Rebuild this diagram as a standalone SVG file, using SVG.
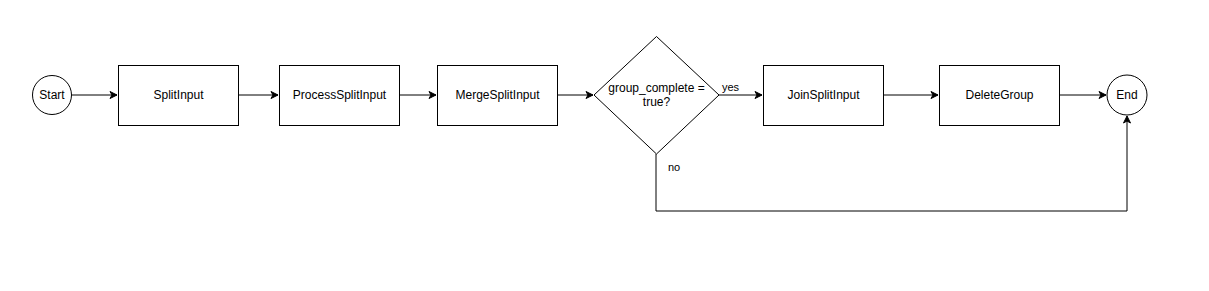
<svg xmlns="http://www.w3.org/2000/svg" width="1209" height="291" viewBox="0 0 1209 291">
<style>
.s{fill:#fff;stroke:#000;stroke-width:1}
.t{font-family:"Liberation Sans",Arial,sans-serif;font-size:12px;fill:#000;text-anchor:middle}
.l{font-family:"Liberation Sans",Arial,sans-serif;font-size:11px;fill:#000}
.e{fill:none;stroke:#000;stroke-width:1;marker-end:url(#a)}
</style>
<defs>
<marker id="a" markerWidth="10" markerHeight="10" refX="8" refY="5" orient="auto" markerUnits="userSpaceOnUse">
<path d="M1,1.5 L8,5 L1,8.5 L3,5 Z" fill="#000" stroke="#000"/>
</marker>
</defs>
<rect width="1209" height="291" fill="#fff"/>
<g id="edges">
<path class="e" d="M72,95 L117,95"/>
<path class="e" d="M238,95 L278,95"/>
<path class="e" d="M399,95 L436,95"/>
<path class="e" d="M557,95 L593,95"/>
<path class="e" d="M719,95 L762,95"/>
<path class="e" d="M883,95 L938,95"/>
<path class="e" d="M1059,95 L1106,95"/>
<path class="e" d="M656,154 L656,211 L1127,211 L1127,116"/>
<text class="l" x="722" y="91">yes</text>
<text class="l" x="668" y="171">no</text>
</g>
<g id="start"><circle class="s" cx="52" cy="95" r="19.5"/><text class="t" x="52" y="99">Start</text></g>
<g id="splitinput"><rect class="s" x="118.5" y="65.5" width="120" height="60"/><text class="t" x="178.5" y="99">SplitInput</text></g>
<g id="processsplitinput"><rect class="s" x="279.5" y="65.5" width="120" height="60"/><text class="t" x="339.5" y="99">ProcessSplitInput</text></g>
<g id="mergesplitinput"><rect class="s" x="437.5" y="65.5" width="120" height="60"/><text class="t" x="497.5" y="99">MergeSplitInput</text></g>
<g id="decision"><path class="s" d="M656.5,36.5 L719,95 L656.5,154 L594,95 Z"/><text class="t" x="656.5" y="92">group_complete =</text><text class="t" x="656.5" y="106">true?</text></g>
<g id="joinsplitinput"><rect class="s" x="763.5" y="65.5" width="120" height="60"/><text class="t" x="823.5" y="99">JoinSplitInput</text></g>
<g id="deletegroup"><rect class="s" x="939.5" y="65.5" width="120" height="60"/><text class="t" x="999.5" y="99">DeleteGroup</text></g>
<g id="end"><circle class="s" cx="1127" cy="95" r="20"/><text class="t" x="1127" y="99">End</text></g>
</svg>
